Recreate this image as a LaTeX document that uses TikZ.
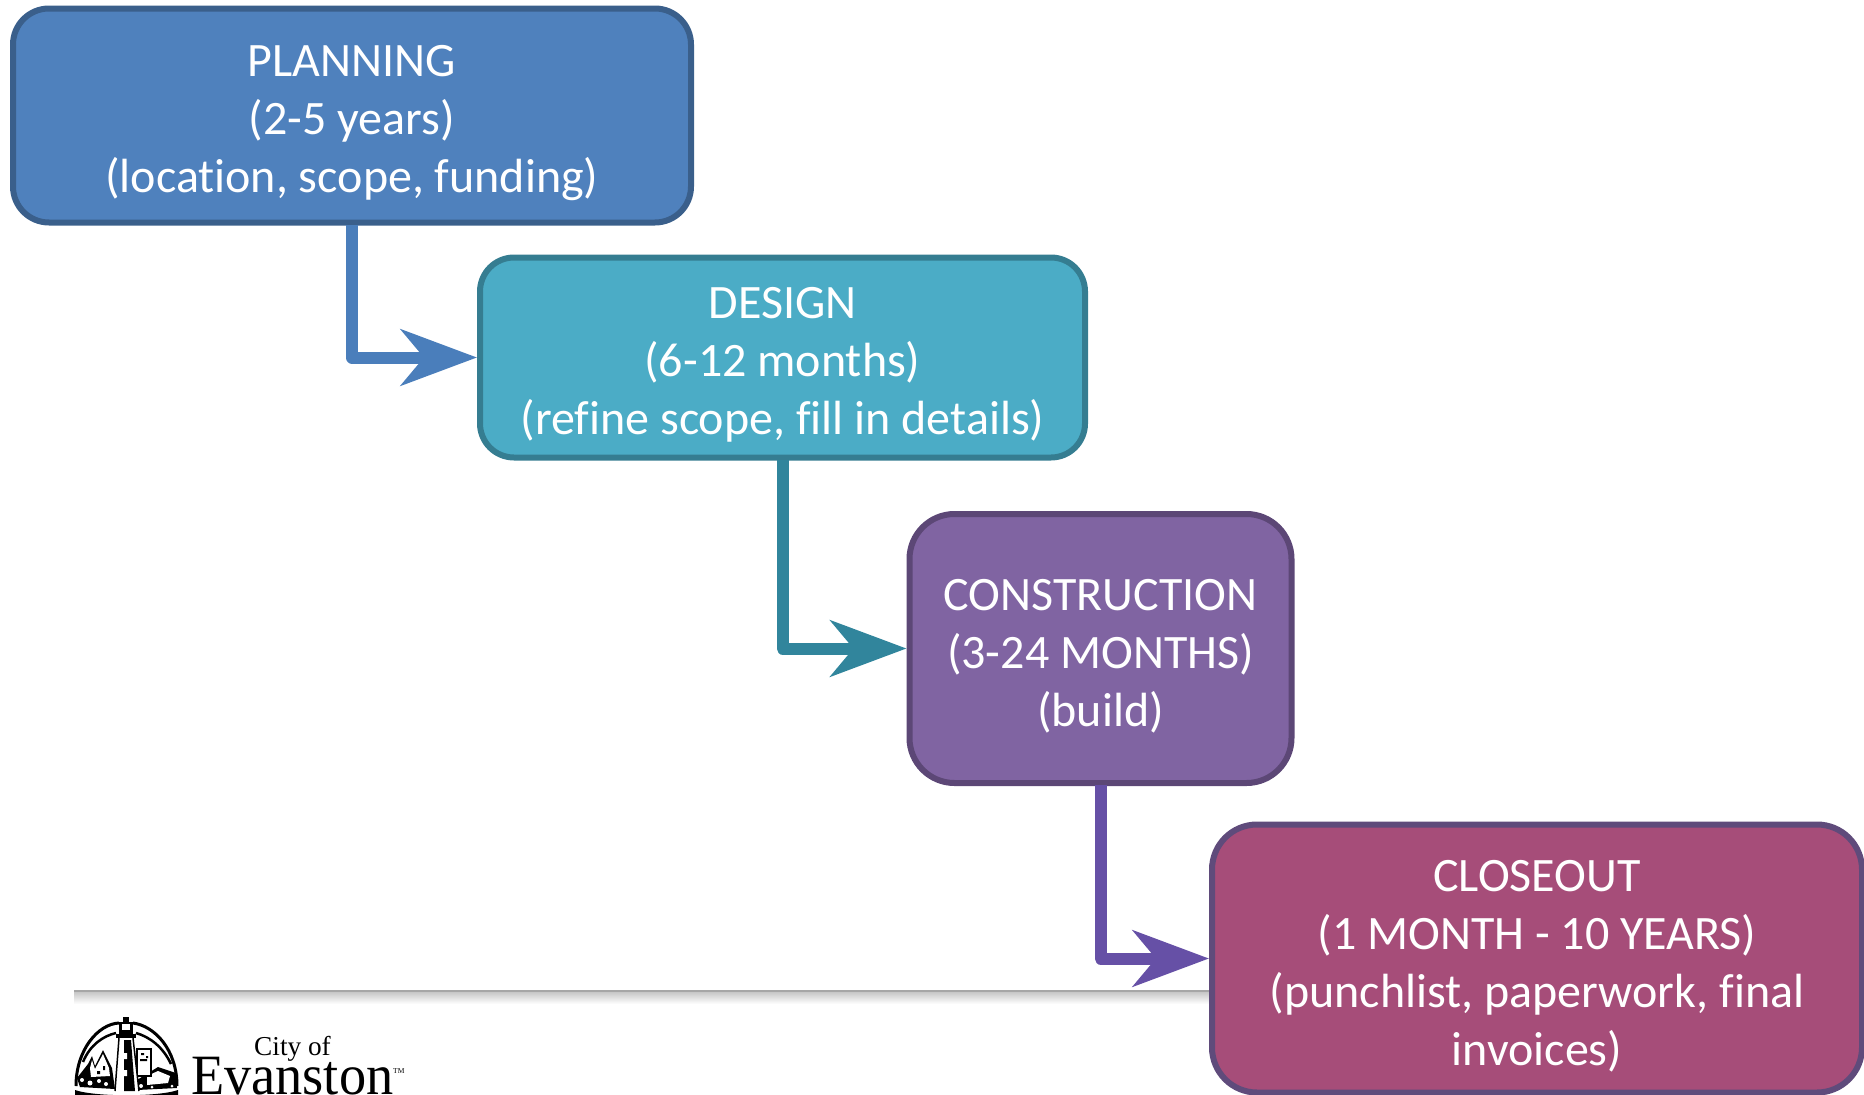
\documentclass[tikz,border=0pt]{standalone}
\usepackage{fontspec}
\setmainfont[RawFeature={-liga;-clig;-dlig}]{Carlito}
\newfontfamily\logofont{Liberation Serif}
\newfontfamily\logowide[FakeStretch=0.953]{Liberation Serif}
\usetikzlibrary{arrows.meta,calc}
\definecolor{planfill}{HTML}{4F81BD}\definecolor{planline}{HTML}{3A5F8B}
\definecolor{desfill}{HTML}{4BACC6}\definecolor{desline}{HTML}{357D91}
\definecolor{confill}{HTML}{8064A2}\definecolor{conline}{HTML}{5C4776}
\definecolor{clofill}{HTML}{A64D79}\definecolor{cloline}{HTML}{5F4B7B}
\definecolor{arrA}{HTML}{4A7EBB}\definecolor{arrB}{HTML}{31859C}\definecolor{arrC}{HTML}{6650A6}
\newcommand{\topfix}{\rule{0pt}{46pt}}
\tikzset{
  phase/.style={draw,line width=6pt,text=white,align=center,inner sep=0pt,
    font=\fontsize{48}{58}\selectfont},
  flow/.style={line width=12pt,line join=round,
    -{Stealth[length=76pt,width=56pt,inset=23pt]}},
  logo/.style={black,line width=2.5pt},
  logotext/.style={inner sep=0pt,anchor=base west,text=black}
}
\begin{document}
\begin{tikzpicture}[x=1pt,y=-1pt]
\useasboundingbox (0,0) rectangle (1864,1095);
\clip (0,0) rectangle (1864,1095);
% footer rule
\shade[top color=black!22,bottom color=white] (74,992) rectangle (1212,1004);
\draw[black!35,line width=2pt] (74,991) -- (1212,991);
% boxes
\node[phase,fill=planfill,draw=planline,rounded corners=36pt,minimum width=678pt,minimum height=214pt] (plan) at (352,115.5)
  {\topfix PLANNING\\(2-5 years)\\(location, scope, funding)};
\node[phase,fill=desfill,draw=desline,rounded corners=34pt,minimum width=605pt,minimum height=200pt] (des) at (782.5,357.5)
  {\topfix DESIGN\\(6-12 months)\\(refine scope, fill in details)};
\node[phase,fill=confill,draw=conline,rounded corners=45pt,minimum width=382pt,minimum height=269pt] (con) at (1100.5,648.5)
  {\topfix CONSTRUCTION\\(3-24 MONTHS)\\(build)};
\node[phase,fill=clofill,draw=cloline,rounded corners=45pt,minimum width=650pt,minimum height=268pt] (clo) at (1537,958.5)
  {\topfix CLOSEOUT\\(1 MONTH - 10 YEARS)\\(punchlist, paperwork, final\\invoices)};
% connectors
\draw[flow,arrA] ($(plan.south)+(0,-1)$) |- (des.west);
\draw[flow,arrB] ($(des.south)+(0,-1)$) |- (con.west);
\draw[flow,arrC] ($(con.south)+(0,-1)$) |- (clo.west);
% logo: dome
\draw[logo,line width=3pt] (76,1086) .. controls (76,1050) and (98,1024) .. (119,1023);
\draw[logo,line width=3pt] (133,1023) .. controls (155,1026) and (177,1050) .. (177,1086);
\draw[logo] (83,1062) .. controls (90,1045) and (103,1036) .. (116,1033);
\draw[logo] (136,1033) .. controls (150,1037) and (163,1047) .. (171,1064);
% logo: ground band
\fill[black] (75,1090) .. controls (95,1097) and (158,1097) .. (178,1090) -- (178,1095) -- (75,1095) -- cycle;
% logo: left church and foliage
\fill[black] (77,1078) -- (88,1064) -- (92,1056) -- (95,1066) -- (103,1050) -- (112,1068) -- (115,1089) -- (80,1087) -- cycle;
\fill[white] (90,1068) -- (92,1060) -- (95,1069) -- (103,1054) -- (109,1068) -- (110,1076) -- (91,1077) -- cycle;
\fill[black] (97,1071) rectangle (100,1074) (103,1066) rectangle (105,1070);
\fill[white] (82,1080) circle (2pt) (90,1083) circle (2.5pt) (99,1081) circle (2pt) (106,1084) circle (2pt);
% logo: right buildings and foliage
\fill[black] (137,1080) -- (158,1067) -- (176,1073) -- (177,1088) -- (137,1090) -- cycle;
\fill[white] (147,1076) -- (158,1071) -- (170,1076) -- (168,1083) -- (147,1085) -- cycle;
\fill[white] (141,1086) circle (2pt) (152,1087) circle (1.5pt) (172,1086) circle (1.5pt);
\fill[white] (137,1049) rectangle (151,1076);
\draw[black,line width=1.5pt] (137,1049) rectangle (151,1076);
\fill[black] (141,1053) rectangle (144,1055) (146,1056) rectangle (148,1058) (140,1059) rectangle (147,1061);
% logo: lighthouse
\fill[white] (119,1036) -- (133,1036) -- (139,1091) -- (115,1091) -- cycle;
\draw[black,line width=1.5pt] (119,1038) -- (115,1091) (133,1038) -- (139,1091);
\fill[black] (124,1040) -- (131,1040) -- (135,1091) -- (124,1091) -- cycle;
\fill[white] (124,1053) rectangle (127,1059) (124,1070) rectangle (127,1076);
\fill[black] (119,1022) rectangle (133,1036);
\fill[white] (122,1024) rectangle (130,1030);
\fill[black] (116,1034) rectangle (136,1038);
\fill[black] (123,1017) rectangle (129,1022);
% wordmark
\node[logotext,font=\logofont\fontsize{27.3}{27.3}\selectfont] (cityof) at (254,1055) {City of};
\node[logotext,font=\logowide\fontsize{57}{57}\selectfont] (evanston) at (191,1094) {Evanston};
\node[logotext,font=\logofont\fontsize{7.5}{7.5}\selectfont] (tm) at (393,1073) {TM};
\end{tikzpicture}
\end{document}
